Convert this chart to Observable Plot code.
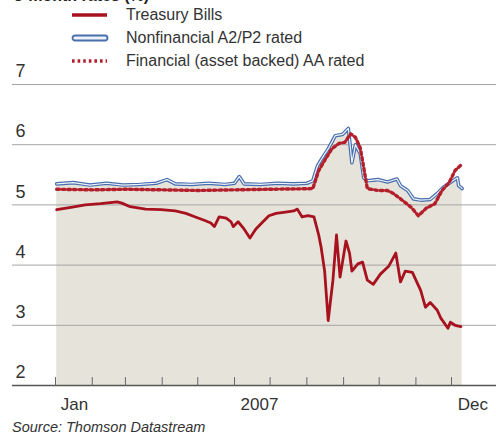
<!DOCTYPE html>
<html><head><meta charset="utf-8">
<script src="https://cdn.jsdelivr.net/npm/d3@7"></script>
<script src="https://cdn.jsdelivr.net/npm/@observablehq/plot@0.6"></script>
<style>
body{margin:0;background:#fff;}
#wrap{position:relative;width:496px;height:437px;overflow:hidden;font-family:"Liberation Sans",Arial,sans-serif;color:#333;}
#wrap svg.plot{position:absolute;left:0;top:0;}
.t{position:absolute;white-space:nowrap;}
.title{left:14px;top:-13px;font-size:16px;font-weight:bold;color:#222;}
.leg{left:126px;font-size:16px;line-height:18px;color:#333;}
.sw{position:absolute;left:70px;}
.src{left:12px;top:419px;font-size:14.5px;font-style:italic;color:#333;}
</style></head><body><div id="wrap"></div>
<script>
const titleText = "3-month rates (%)";
const seriesNames = ["Treasury Bills", "Nonfinancial A2/P2 rated", "Financial (asset backed) AA rated"];
const sourceText = "Source: Thomson Datastream";

const tbDates = ["2007-01-02","2007-01-14","2007-01-26","2007-02-08","2007-02-22","2007-02-26","2007-03-05","2007-03-18","2007-03-31","2007-04-12","2007-04-21","2007-04-29","2007-05-07","2007-05-12","2007-05-15","2007-05-19","2007-05-25","2007-05-29","2007-05-31","2007-06-04","2007-06-09","2007-06-14","2007-06-19","2007-06-25","2007-06-30","2007-07-06","2007-07-14","2007-07-21","2007-07-24","2007-07-28","2007-08-02","2007-08-07","2007-08-11","2007-08-13","2007-08-16","2007-08-19","2007-08-23","2007-08-26","2007-08-29","2007-09-03","2007-09-06","2007-09-08","2007-09-13","2007-09-17","2007-09-21","2007-09-26","2007-10-02","2007-10-09","2007-10-15","2007-10-19","2007-10-23","2007-10-29","2007-11-01","2007-11-05","2007-11-09","2007-11-13","2007-11-19","2007-11-22","2007-11-28","2007-11-30","2007-12-04","2007-12-09"];
const tbValues = [4.92,4.96,5.0,5.02,5.05,5.03,4.97,4.93,4.92,4.9,4.86,4.8,4.74,4.7,4.64,4.8,4.78,4.72,4.64,4.72,4.6,4.45,4.6,4.72,4.82,4.86,4.88,4.9,4.93,4.8,4.82,4.8,4.5,4.3,3.9,3.08,3.75,4.5,3.8,4.4,4.2,3.9,4.02,4.05,3.75,3.68,3.85,3.98,4.2,3.72,3.9,3.88,3.75,3.58,3.3,3.38,3.25,3.12,2.95,3.05,3.0,2.98];

const nfDates = ["2007-01-02","2007-01-16","2007-01-30","2007-02-13","2007-02-27","2007-03-13","2007-03-27","2007-04-05","2007-04-12","2007-04-26","2007-05-10","2007-05-24","2007-06-01","2007-06-05","2007-06-09","2007-06-23","2007-07-07","2007-07-21","2007-08-01","2007-08-06","2007-08-10","2007-08-14","2007-08-19","2007-08-25","2007-08-31","2007-09-05","2007-09-07","2007-09-08","2007-09-11","2007-09-15","2007-09-18","2007-09-21","2007-09-30","2007-10-08","2007-10-16","2007-10-19","2007-10-25","2007-10-30","2007-11-05","2007-11-13","2007-11-19","2007-11-24","2007-12-02","2007-12-06","2007-12-07","2007-12-10"];
const nfValues = [5.35,5.37,5.33,5.36,5.33,5.34,5.36,5.42,5.35,5.34,5.36,5.34,5.36,5.47,5.35,5.34,5.36,5.35,5.36,5.4,5.65,5.78,5.93,6.15,6.17,6.27,5.9,5.7,6.0,5.85,5.45,5.4,5.42,5.38,5.43,5.32,5.24,5.1,5.08,5.09,5.19,5.29,5.4,5.45,5.32,5.27];

const fiDates = ["2007-01-02","2007-02-01","2007-03-01","2007-04-01","2007-05-01","2007-06-01","2007-07-01","2007-08-06","2007-08-11","2007-08-16","2007-08-22","2007-08-28","2007-09-02","2007-09-07","2007-09-11","2007-09-15","2007-09-18","2007-09-21","2007-09-30","2007-10-08","2007-10-13","2007-10-19","2007-10-28","2007-11-03","2007-11-10","2007-11-17","2007-11-23","2007-11-29","2007-12-04","2007-12-10"];
const fiValues = [5.26,5.25,5.26,5.25,5.24,5.25,5.26,5.27,5.57,5.74,5.93,6.02,6.04,6.18,6.12,5.95,5.62,5.27,5.24,5.24,5.19,5.1,4.96,4.82,4.95,5.02,5.24,5.37,5.57,5.68];

const yTicks = [2,3,4,5,6,7];
const monthTicks = ["2007-01-01","2007-02-01","2007-03-01","2007-04-01","2007-05-01","2007-06-01","2007-07-01","2007-08-01","2007-09-01","2007-10-01","2007-11-01","2007-12-01"];
const xLabels = ["Jan","2007","Dec"];
const xLabelDates = ["2007-01-17","2007-06-22","2007-12-19"];

const P = s => new Date(s + "T00:00:00Z");
const tb = tbDates.map((d,i)=>({date:P(d), v:tbValues[i]}));
const nf = nfDates.map((d,i)=>({date:P(d), v:nfValues[i]}));
const fi = fiDates.map((d,i)=>({date:P(d), v:fiValues[i]}));
const xl = xLabels.map((t,i)=>({date:P(xLabelDates[i]), t}));

const RED = "#a8121f", BLUE = "#4a6fae", DOT = "#b3202c", BEIGE = "#e6e3da";
const DASH = "2.6,3";
const tickShape = {draw(ctx, l){ ctx.moveTo(0,0); ctx.lineTo(0,-l); }};

const chart = Plot.plot({
  width: 496, height: 437,
  marginLeft: 12, marginRight: 0, marginTop: 84, marginBottom: 52,
  style: {fontFamily: "'Liberation Sans', Arial, sans-serif", background: "transparent"},
  x: {type: "utc", domain: [P("2007-01-01"), P("2007-12-01")], range: [55, 451], axis: null},
  y: {domain: [2, 7], range: [385, 84], axis: null},
  marks: [
    Plot.areaY(nf, {x: "date", y1: 2, y2: "v", fill: BEIGE, curve: "linear"}),
    Plot.ruleY(yTicks.filter(d => d > 2), {stroke: "#a5a5a5", strokeWidth: 1}),
    Plot.ruleY([2], {stroke: "#555", strokeWidth: 1.3}),
    Plot.vector(monthTicks.map(P), {x: d => d, y: 2, length: 8, rotate: 0, anchor: "start", shape: tickShape, stroke: "#666", strokeWidth: 1}),
    Plot.line(tb, {x: "date", y: "v", stroke: RED, strokeWidth: 2.8, strokeLinejoin: "round"}),
    Plot.line(nf, {x: "date", y: "v", stroke: BLUE, strokeWidth: 3.6, strokeLinejoin: "round"}),
    Plot.line(nf, {x: "date", y: "v", stroke: "#eef3fa", strokeWidth: 1.2, strokeLinejoin: "round"}),
    Plot.line(fi, {x: "date", y: "v", stroke: DOT, strokeWidth: 3.4, strokeDasharray: DASH}),
    Plot.text(yTicks, {y: d => d, frameAnchor: "left", textAnchor: "start", dx: 3, dy: -13, text: d => String(d), fontSize: 18, fill: "#333"}),
    Plot.text(xl, {x: "date", y: 2, dy: 19, text: "t", fontSize: 17, fill: "#333"})
  ]
});
chart.classList.add("plot");
const wrap = document.getElementById("wrap");
wrap.appendChild(chart);

function addText(cls, txt, top){
  const d = document.createElement("div");
  d.className = "t " + cls; d.textContent = txt;
  if (top !== undefined) d.style.top = top + "px";
  wrap.appendChild(d);
}
addText("title", titleText);
const rowY = [15, 38, 61];
seriesNames.forEach((n,i) => addText("leg", n, rowY[i] - 9));
addText("src", sourceText);

const ns = "http://www.w3.org/2000/svg";
function swatch(i){
  const s = document.createElementNS(ns, "svg");
  s.setAttribute("width", 40); s.setAttribute("height", 10);
  s.setAttribute("class", "sw");
  s.style.top = (rowY[i] - 5) + "px";
  if (i === 0) {
    s.innerHTML = `<line x1="2" x2="37" y1="5" y2="5" stroke="${RED}" stroke-width="3.5"/>`;
  } else if (i === 1) {
    s.innerHTML = `<rect x="2.5" y="2.5" width="35" height="5" rx="2.5" fill="#eef3fa" stroke="${BLUE}" stroke-width="1.8"/>`;
  } else {
    s.innerHTML = `<line x1="2" x2="37" y1="5" y2="5" stroke="${DOT}" stroke-width="3.4" stroke-dasharray="${DASH}"/>`;
  }
  wrap.appendChild(s);
}
[0,1,2].forEach(swatch);
</script></body></html>
